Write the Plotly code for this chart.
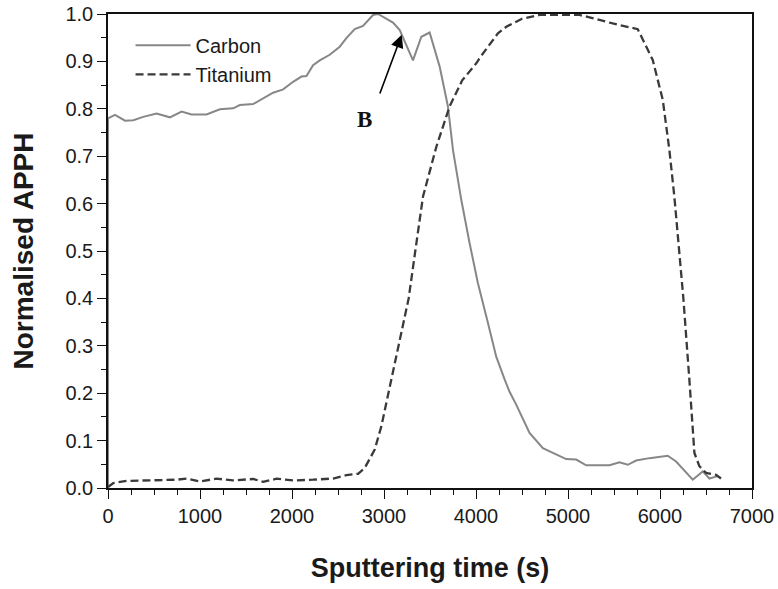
import plotly.graph_objects as go

# Carbon (solid grey)
carbon_t = [0, 0, 76, 185, 275, 383, 528, 673, 800, 908, 1071, 1216, 1361, 1433, 1578, 1687,
            1795, 1904, 2012, 2103, 2157, 2229, 2302, 2410, 2519, 2591, 2682, 2772, 2881, 2935,
            2990, 3098, 3171, 3315, 3406, 3496, 3605, 3695, 3750, 3840, 3930, 4021, 4130, 4220,
            4311, 4365, 4437, 4582, 4727, 4872, 4980, 5089, 5198, 5451, 5559, 5650, 5740, 5885,
            5994, 6084, 6175, 6356, 6465, 6537, 6627]
carbon_v = [0.0, 0.78, 0.787, 0.775, 0.776, 0.783, 0.79, 0.782, 0.794, 0.788, 0.788, 0.799, 0.801,
            0.808, 0.81, 0.822, 0.834, 0.841, 0.857, 0.868, 0.869, 0.892, 0.902, 0.914, 0.931,
            0.949, 0.968, 0.975, 0.998, 1.0, 0.994, 0.982, 0.966, 0.902, 0.952, 0.961, 0.889,
            0.805, 0.713, 0.608, 0.517, 0.432, 0.348, 0.277, 0.229, 0.203, 0.176, 0.116, 0.084,
            0.070, 0.061, 0.060, 0.048, 0.048, 0.054, 0.049, 0.058, 0.063, 0.065, 0.068, 0.056,
            0.0175, 0.035, 0.020, 0.025]

# Titanium (dashed dark)
titan_t = [0, 58, 203, 745, 853, 1000, 1180, 1361, 1578, 1687, 1832, 2012, 2229, 2447, 2591, 2718,
           2790, 2899, 2971, 3025, 3080, 3180, 3268, 3340, 3424, 3569, 3713, 3850, 4003, 4039,
           4238, 4329, 4500, 4690, 5125, 5233, 5487, 5758, 5921, 6030, 6102, 6156, 6254, 6319,
           6374, 6428, 6500, 6609, 6663]
titan_v = [0.002, 0.0105, 0.015, 0.0175, 0.0196, 0.014, 0.0196, 0.016, 0.019, 0.013, 0.0196,
           0.016, 0.0175, 0.020, 0.027, 0.030, 0.042, 0.081, 0.13, 0.179, 0.225, 0.32, 0.40,
           0.50, 0.615, 0.72, 0.805, 0.86, 0.896, 0.907, 0.959, 0.973, 0.99, 0.998, 0.998, 0.993,
           0.98, 0.968, 0.903, 0.819, 0.713, 0.615, 0.40, 0.229, 0.074, 0.046, 0.032, 0.028, 0.02]

x_ticks = [0, 1000, 2000, 3000, 4000, 5000, 6000, 7000]
y_ticks = [0.0, 0.1, 0.2, 0.3, 0.4, 0.5, 0.6, 0.7, 0.8, 0.9, 1.0]

FONT = "Liberation Sans, Arial, sans-serif"

fig = go.Figure()
fig.add_trace(go.Scatter(x=carbon_t, y=carbon_v, mode="lines", name="Carbon",
                         line=dict(color="#878787", width=2)))
fig.add_trace(go.Scatter(x=titan_t, y=titan_v, mode="lines", name="Titanium",
                         line=dict(color="#3a3a3a", width=2.3, dash="8px,4px")))

fig.add_annotation(x=3192, y=0.956, ax=2949, ay=0.829, xref="x", yref="y", axref="x", ayref="y",
                   text="", showarrow=True, arrowhead=2, arrowsize=1.6, arrowwidth=1.6,
                   arrowcolor="#000")
fig.add_annotation(x=2790, y=0.777, xref="x", yref="y", text="<b>B</b>", showarrow=False,
                   font=dict(family="Liberation Serif, Times New Roman, serif", size=23,
                             color="#111"))

fig.update_layout(
    width=778, height=589,
    margin=dict(l=108, r=26, t=14, b=101),
    paper_bgcolor="white", plot_bgcolor="white",
    font=dict(family=FONT, color="#1a1a1a"),
    showlegend=True,
    legend=dict(x=0.035, y=0.975, xanchor="left", yanchor="top", bgcolor="rgba(0,0,0,0)",
                font=dict(size=20, family=FONT, color="#1a1a1a"), tracegroupgap=0,
                itemwidth=55),
    xaxis=dict(range=[0, 7000], tickvals=x_ticks, ticks="outside", ticklen=9, tickwidth=1.3,
               tickcolor="#111", showline=True, linecolor="#111", linewidth=1.5, mirror=True,
               showgrid=False, zeroline=False, tickfont=dict(size=20, family=FONT),
               automargin=False, ticklabeloverflow="allow",
               minor=dict(dtick=250, ticks="outside", ticklen=5, tickwidth=1.2,
                          tickcolor="#111", showgrid=False),
               title=dict(text="<b>Sputtering time (s)</b>", font=dict(size=27, family=FONT),
                          standoff=32)),
    yaxis=dict(range=[0, 1.0], tickvals=y_ticks, tickformat=".1f", ticks="outside", ticklen=9,
               tickwidth=1.3, tickcolor="#111", showline=True, linecolor="#111", linewidth=1.5,
               mirror=True, showgrid=False, zeroline=False, tickfont=dict(size=20, family=FONT),
               automargin=False, ticklabeloverflow="allow",
               minor=dict(dtick=0.05, ticks="outside", ticklen=5, tickwidth=1.2,
                          tickcolor="#111", showgrid=False),
               title=dict(text="<b>Normalised APPH</b>", font=dict(size=28, family=FONT),
                          standoff=24)),
)

# remove the default 8px page margin so the 778x589 figure fills the window exactly
fig.write_html("out.html", config={"displayModeBar": False},
               post_script="document.body.style.margin='0';document.body.style.overflow='hidden';")
